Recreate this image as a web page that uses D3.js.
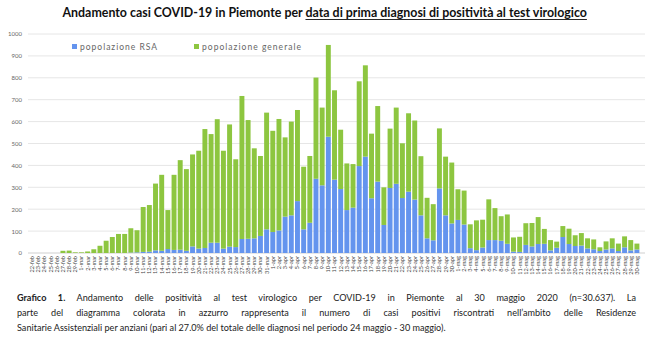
<!DOCTYPE html>
<html>
<head>
<meta charset="utf-8">
<script src="https://cdn.jsdelivr.net/npm/d3@7/dist/d3.min.js"></script>
<style>
  html, body { margin: 0; padding: 0; background: #fff; }
  svg { display: block; }
</style>
</head>
<body>
<svg id="chart" width="650" height="360"></svg>
<script>
const dates = [
  "22-feb","23-feb","24-feb","25-feb","26-feb","27-feb","28-feb","29-feb",
  "1-mar","2-mar","3-mar","4-mar","5-mar","6-mar","7-mar","8-mar","9-mar","10-mar",
  "11-mar","12-mar","13-mar","14-mar","15-mar","16-mar","17-mar","18-mar","19-mar","20-mar",
  "21-mar","22-mar","23-mar","24-mar","25-mar","26-mar","27-mar","28-mar","29-mar","30-mar","31-mar",
  "1-apr","2-apr","3-apr","4-apr","5-apr","6-apr","7-apr","8-apr","9-apr","10-apr",
  "11-apr","12-apr","13-apr","14-apr","15-apr","16-apr","17-apr","18-apr","19-apr","20-apr",
  "21-apr","22-apr","23-apr","24-apr","25-apr","26-apr","27-apr","28-apr","29-apr","30-apr",
  "1-mag","2-mag","3-mag","4-mag","5-mag","6-mag","7-mag","8-mag","9-mag","10-mag",
  "11-mag","12-mag","13-mag","14-mag","15-mag","16-mag","17-mag","18-mag","19-mag","20-mag",
  "21-mag","22-mag","23-mag","24-mag","25-mag","26-mag","27-mag","28-mag","29-mag","30-mag"
];

// popolazione RSA (blue, bottom)
const rsa = [
  0,0,0,0,0,0,0,0,
  0,0,0,0,0,0,0,0,2,3,
  5,6,12,10,18,14,15,10,30,20,
  23,47,47,20,29,27,64,65,67,78,108,
  96,103,166,172,237,108,138,339,309,531,
  335,292,196,207,397,440,250,326,128,297,
  316,251,280,244,172,67,58,295,172,135,
  151,130,22,13,25,59,59,56,42,6,
  5,37,30,41,42,12,24,73,41,32,
  34,21,17,9,16,21,9,26,12,16
];

// popolazione generale (green, stacked on top)
const generale = [
  0,0,0,0,0,10,11,3,
  3,7,17,33,56,73,87,87,111,101,
  205,213,305,347,178,343,409,373,420,447,
  543,496,564,447,558,401,653,542,411,365,533,
  462,509,362,428,416,286,305,462,355,419,
  408,271,213,199,387,417,295,345,172,271,
  348,250,358,361,270,185,165,274,268,278,
  140,155,109,136,127,186,146,112,134,65,
  69,99,107,123,68,47,28,50,70,49,
  57,46,45,17,37,46,34,50,47,27
];

const yTicks = [0,100,200,300,400,500,600,700,800,900,1000];
const seriesNames = ["popolazione RSA", "popolazione generale"];
const colors = ["#6494EE", "#8DC640"];

const titlePlain = "Andamento casi COVID-19 in Piemonte per\u00a0";
const titleUnder = "data di prima diagnosi di positività al test virologico";

const captionLines = [
  [{t:"Grafico 1.", b:true}, {t:" Andamento delle positività al test virologico per COVID-19 in Piemonte al 30 maggio 2020 (n=30.637). La", b:false}],
  [{t:"parte del diagramma colorata in azzurro rappresenta il numero di casi positivi riscontrati nell’ambito delle Residenze", b:false}],
  [{t:"Sanitarie Assistenziali per anziani (pari al 27.0% del totale delle diagnosi nel periodo 24 maggio - 30 maggio).", b:false}]
];

const svg = d3.select("#chart");
const FONT = "Lato, 'Open Sans', sans-serif";

const x = d3.scaleBand().domain(dates).range([29, 640]).paddingInner(0.2).paddingOuter(0.1);
const y = d3.scaleLinear().domain([0, 1000]).range([253, 34]);

// gridlines
svg.append("g").selectAll("line").data(yTicks).join("line")
  .attr("x1", 28).attr("x2", 645)
  .attr("y1", d => y(d)).attr("y2", d => y(d))
  .attr("stroke", d => d === 0 ? "#cfcfcf" : "#e6e6e6").attr("stroke-width", 1);

// y axis labels
const yAxis = d3.axisLeft(y).tickValues(yTicks).tickFormat(d3.format("d")).tickSize(0).tickPadding(0);
const yg = svg.append("g").attr("transform", "translate(22,0)").call(yAxis);
yg.select(".domain").remove();
yg.selectAll("text").attr("font-family", FONT).attr("font-size", 6).attr("fill", "#666");

// stacked bars
const table = dates.map((d, i) => ({date: d, rsa: rsa[i], generale: generale[i]}));
const stack = d3.stack().keys(["rsa", "generale"])(table);
svg.append("g").selectAll("g").data(stack).join("g")
  .attr("fill", (d, i) => colors[i])
  .selectAll("rect").data(d => d).join("rect")
  .attr("x", d => x(d.data.date))
  .attr("width", x.bandwidth())
  .attr("y", d => y(d[1]))
  .attr("height", d => Math.max(0, y(d[0]) - y(d[1])));

// x axis labels (vertical)
const xAxis = d3.axisBottom(x).tickSize(0).tickPadding(0);
const xg = svg.append("g").attr("transform", "translate(0,256)").call(xAxis);
xg.select(".domain").remove();
xg.selectAll("text")
  .attr("font-family", FONT).attr("font-size", 5.6).attr("fill", "#444")
  .attr("transform", "rotate(-90)")
  .attr("text-anchor", "end")
  .attr("x", 0).attr("y", 0).attr("dy", "0.35em").attr("dx", 0);

// legend
const legendX = [72, 194];
const legendW = [77, 99];
seriesNames.forEach((name, i) => {
  svg.append("rect").attr("x", legendX[i]).attr("y", 44).attr("width", 5).attr("height", 5).attr("fill", colors[i]);
  svg.append("text").attr("x", legendX[i] + 8).attr("y", 50)
    .attr("font-family", FONT).attr("font-size", 8.5).attr("fill", "#666")
    .attr("textLength", legendW[i]).attr("lengthAdjust", "spacing")
    .text(name);
});

// title: two pieces, font sized to span 525px
const TW = 525, TX0 = 325 - TW / 2;
const t1 = svg.append("text").attr("y", 17).attr("font-family", FONT).attr("font-weight", "bold").attr("fill", "#111").text(titlePlain);
const t2 = svg.append("text").attr("y", 17).attr("font-family", FONT).attr("font-weight", "bold").attr("fill", "#111").text(titleUnder);
t1.attr("font-size", 12); t2.attr("font-size", 12);
const w0 = t1.node().getComputedTextLength() + t2.node().getComputedTextLength();
const fs = 12 * TW / w0;
t1.attr("font-size", fs).attr("x", TX0);
const w1 = t1.node().getComputedTextLength();
t2.attr("font-size", fs).attr("x", TX0 + w1);
const w2 = t2.node().getComputedTextLength();
svg.append("line").attr("x1", TX0 + w1).attr("x2", TX0 + w1 + w2).attr("y1", 19.5).attr("y2", 19.5)
  .attr("stroke", "#111").attr("stroke-width", 0.9);

// caption
const capX = 17, capW = 619;
const capY = [301, 316, 331];
captionLines.forEach((parts, li) => {
  const t = svg.append("text").attr("x", capX).attr("y", capY[li])
    .attr("font-family", FONT).attr("font-size", 9.1).attr("fill", "#222");
  parts.forEach(p => t.append("tspan").attr("font-weight", p.b ? "bold" : "normal").text(p.t));
  if (li < 2) {
    const nat = t.node().getComputedTextLength();
    const full = parts.map(p => p.t).join("");
    const spaces = (full.match(/ /g) || []).length;
    t.attr("word-spacing", (capW - nat) / spaces);
  }
});
</script>
</body>
</html>
